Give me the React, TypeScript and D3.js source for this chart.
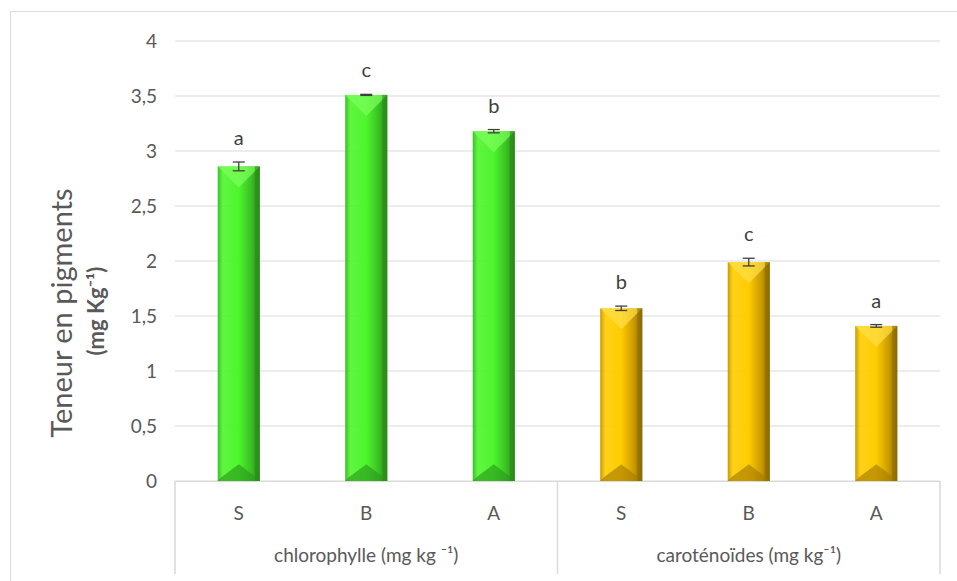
import * as d3 from 'd3';

const treatments = ['S', 'B', 'A'];
const groups = ['chlorophylle (mg kg \u207B\u00B9)', 'caroténoïdes (mg kg\u207B\u00B9)'];
const chlorophyll = [2.86, 3.51, 3.18];
const chlorophyllErr = [0.04, 0.005, 0.015];
const chlorophyllLetters = ['a', 'c', 'b'];
const carotenoids = [1.57, 1.99, 1.41];
const carotenoidsErr = [0.02, 0.035, 0.012];
const carotenoidsLetters = ['b', 'c', 'a'];
const yTicks = [0, 0.5, 1, 1.5, 2, 2.5, 3, 3.5, 4];

const W = 957;
const H = 581;
const margin = { top: 41, right: 17, bottom: 100, left: 175 };
const FONT = 'Lato, "Open Sans", sans-serif';
const TEXT = '#595959';
const GRID = '#d9d9d9';

interface Bar {
  key: string;
  group: number;
  label: string;
  value: number;
  err: number;
  letter: string;
}

const bars: Bar[] = [
  ...treatments.map((t, i) => ({
    key: `0-${t}`, group: 0, label: t, value: chlorophyll[i], err: chlorophyllErr[i], letter: chlorophyllLetters[i],
  })),
  ...treatments.map((t, i) => ({
    key: `1-${t}`, group: 1, label: t, value: carotenoids[i], err: carotenoidsErr[i], letter: carotenoidsLetters[i],
  })),
];

const palettes = [
  { left: '#3bbf25', mid: '#4ef52c', right: '#2a8a18', top: '#7dff5c', bottom: '#2b9a1b' },
  { left: '#c99a00', mid: '#ffcc00', right: '#8c6a00', top: '#ffe04a', bottom: '#a67c00' },
];

export default function App() {
  const x0 = margin.left;
  const x1 = W - margin.right;
  const yBottom = H - margin.bottom;

  const x = d3
    .scaleBand<string>()
    .domain(bars.map((d) => d.key))
    .range([x0, x1])
    .paddingInner(0.67)
    .paddingOuter(0.335);

  const y = d3.scaleLinear().domain([0, 4]).range([yBottom, margin.top]);
  const fmt = (v: number) => String(v).replace('.', ',');
  const groupX = d3.scaleLinear().domain([0, 2]).range([x0, x1]);

  return (
    <svg width={W} height={H} style={{ position: 'absolute', left: 0, top: 0 }} fontFamily={FONT}>
      <defs>
        {palettes.map((p, i) => (
          <linearGradient key={i} id={`g${i}`} x1="0" x2="1" y1="0" y2="0">
            <stop offset="0" stopColor={p.left} />
            <stop offset="0.12" stopColor={p.mid} stopOpacity={0.9} />
            <stop offset="0.5" stopColor={p.mid} />
            <stop offset="0.8" stopColor={p.left} />
            <stop offset="1" stopColor={p.right} />
          </linearGradient>
        ))}
      </defs>
      <rect x={0} y={0} width={W} height={H} fill="#fff" />
      {/* chart frame */}
      <rect x={10.5} y={11.5} width={W} height={H} fill="none" stroke={GRID} />

      {/* grid */}
      {yTicks.map((t) => (
        <g key={t}>
          <line x1={x0} x2={x1} y1={y(t)} y2={y(t)} stroke={GRID} strokeWidth={1} />
          <text x={157} y={y(t)} dy="0.35em" textAnchor="end" fontSize={19} fill={TEXT}>
            {fmt(t)}
          </text>
        </g>
      ))}

      {/* bars */}
      {bars.map((d) => {
        const bx = x(d.key)!;
        const bw = x.bandwidth();
        const top = y(d.value);
        const h = yBottom - top;
        const p = palettes[d.group];
        const bev = Math.min(bw / 2, h / 2);
        const cx = bx + bw / 2;
        return (
          <g key={d.key}>
            <rect x={bx} y={top} width={bw} height={h} fill={`url(#g${d.group})`} />
            <polygon
              points={`${bx},${top} ${bx + bw},${top} ${cx},${top + bev}`}
              fill={p.top}
              opacity={0.7}
            />
            <polygon
              points={`${bx},${yBottom} ${bx + bw},${yBottom} ${bx + bw - 4},${yBottom - 4} ${cx},${yBottom - bev * 0.8} ${bx + 4},${yBottom - 4}`}
              fill={p.bottom}
              opacity={0.65}
            />
            <rect x={bx + bw - 5} y={top} width={5} height={h} fill={p.right} opacity={0.6} />
            {/* error bar */}
            <g stroke="#404040" strokeWidth={1.3}>
              <line x1={cx} x2={cx} y1={y(d.value + d.err)} y2={y(d.value - d.err)} />
              <line x1={cx - 6} x2={cx + 6} y1={y(d.value + d.err)} y2={y(d.value + d.err)} />
              <line x1={cx - 6} x2={cx + 6} y1={y(d.value - d.err)} y2={y(d.value - d.err)} />
            </g>
            <text x={cx} y={y(d.value + d.err) - 17} textAnchor="middle" fontSize={20} fill="#404040">
              {d.letter}
            </text>
            <text x={cx} y={yBottom + 39} textAnchor="middle" fontSize={19} fill={TEXT}>
              {d.label}
            </text>
          </g>
        );
      })}

      {/* category axis */}
      <line x1={x0} x2={x1} y1={yBottom + 0.5} y2={yBottom + 0.5} stroke={GRID} />
      {[0, 1, 2].map((i) => (
        <line key={i} x1={groupX(i)} x2={groupX(i)} y1={yBottom} y2={574} stroke={GRID} strokeWidth={1.5} />
      ))}
      {groups.map((g, i) => (
        <text key={g} x={groupX(i + 0.5)} y={yBottom + 81} textAnchor="middle" fontSize={19} fill={TEXT}>
          {g}
        </text>
      ))}

      {/* y title */}
      <text transform="translate(72,313) rotate(-90)" textAnchor="middle" fontSize={29} fill={TEXT}>
        Teneur en pigments
      </text>
      <text transform="translate(104,311) rotate(-90)" textAnchor="middle" fontSize={22} fill={TEXT} fontWeight="bold">
        (mg Kg{'\u207B\u00B9'})
      </text>
    </svg>
  );
}
